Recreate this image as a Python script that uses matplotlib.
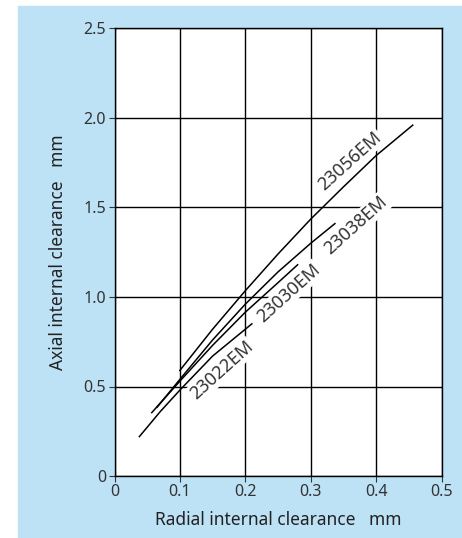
import matplotlib
matplotlib.use("Agg")
from matplotlib import pyplot as plt
from matplotlib.patches import Rectangle

plt.rcParams["font.family"] = ["Noto Sans", "DejaVu Sans"]

# curve data (radial mm, axial mm)
x_23056 = [0.100, 0.15, 0.20, 0.25, 0.30, 0.35, 0.40, 0.456]
y_23056 = [0.59, 0.82, 1.035, 1.24, 1.435, 1.615, 1.79, 1.96]

x_23038 = [0.065, 0.10, 0.15, 0.20, 0.25, 0.30, 0.337]
y_23038 = [0.384, 0.54, 0.76, 0.96, 1.14, 1.30, 1.41]

x_23030 = [0.057, 0.10, 0.15, 0.20, 0.25, 0.28]
y_23030 = [0.354, 0.53, 0.73, 0.915, 1.08, 1.18]

x_23022 = [0.038, 0.07, 0.10, 0.15, 0.21]
y_23022 = [0.22, 0.36, 0.48, 0.67, 0.85]

labels = ["23056EM", "23038EM", "23030EM", "23022EM"]
label_pos = [(0.36, 1.76), (0.369, 1.40), (0.266, 1.02), (0.164, 0.59)]

x_ticks = [0, 0.1, 0.2, 0.3, 0.4, 0.5]
x_ticklabels = ["0", "0.1", "0.2", "0.3", "0.4", "0.5"]
y_ticks = [0, 0.5, 1.0, 1.5, 2.0, 2.5]
y_ticklabels = ["0", "0.5", "1.0", "1.5", "2.0", "2.5"]

TEXT = "#333333"
BLUE = "#bde2f6"


def main():
    fig = plt.figure(figsize=(4.62, 5.38), dpi=100, facecolor="white")
    fig.add_artist(Rectangle((18 / 462, 0), 1 - 18 / 462, 532 / 538,
                             transform=fig.transFigure, color=BLUE,
                             zorder=-10))
    ax = fig.add_axes([114.5 / 462, 62 / 538, 327 / 462, 447.5 / 538])
    ax.set_facecolor("white")

    for xs, ys in [(x_23056, y_23056), (x_23038, y_23038),
                   (x_23030, y_23030), (x_23022, y_23022)]:
        ax.plot(xs, ys, color="black", lw=1.1, zorder=3)

    for text, (tx, ty) in zip(labels, label_pos):
        ax.text(tx, ty, text, rotation=42, ha="center", va="center",
                fontsize=13, color=TEXT, zorder=4,
                bbox=dict(facecolor="white", edgecolor="none", pad=1))

    ax.set_xlim(0, 0.5)
    ax.set_ylim(0, 2.5)
    ax.set_xticks(x_ticks)
    ax.set_xticklabels(x_ticklabels)
    ax.set_yticks(y_ticks)
    ax.set_yticklabels(y_ticklabels)
    ax.grid(True, color="black", lw=1, zorder=1)
    ax.set_axisbelow(True)
    ax.tick_params(colors=TEXT, labelsize=11.5, length=4, width=0.8, pad=2)
    for spine in ax.spines.values():
        spine.set_color("black")
        spine.set_linewidth(1)

    ax.set_xlabel("Radial internal clearance   mm", fontsize=12.5,
                  color="#222222", labelpad=8)
    ax.set_ylabel("Axial internal clearance   mm", fontsize=12.5,
                  color="#222222", labelpad=12)

    fig.savefig("out.png", dpi=100)


if __name__ == "__main__":
    main()
